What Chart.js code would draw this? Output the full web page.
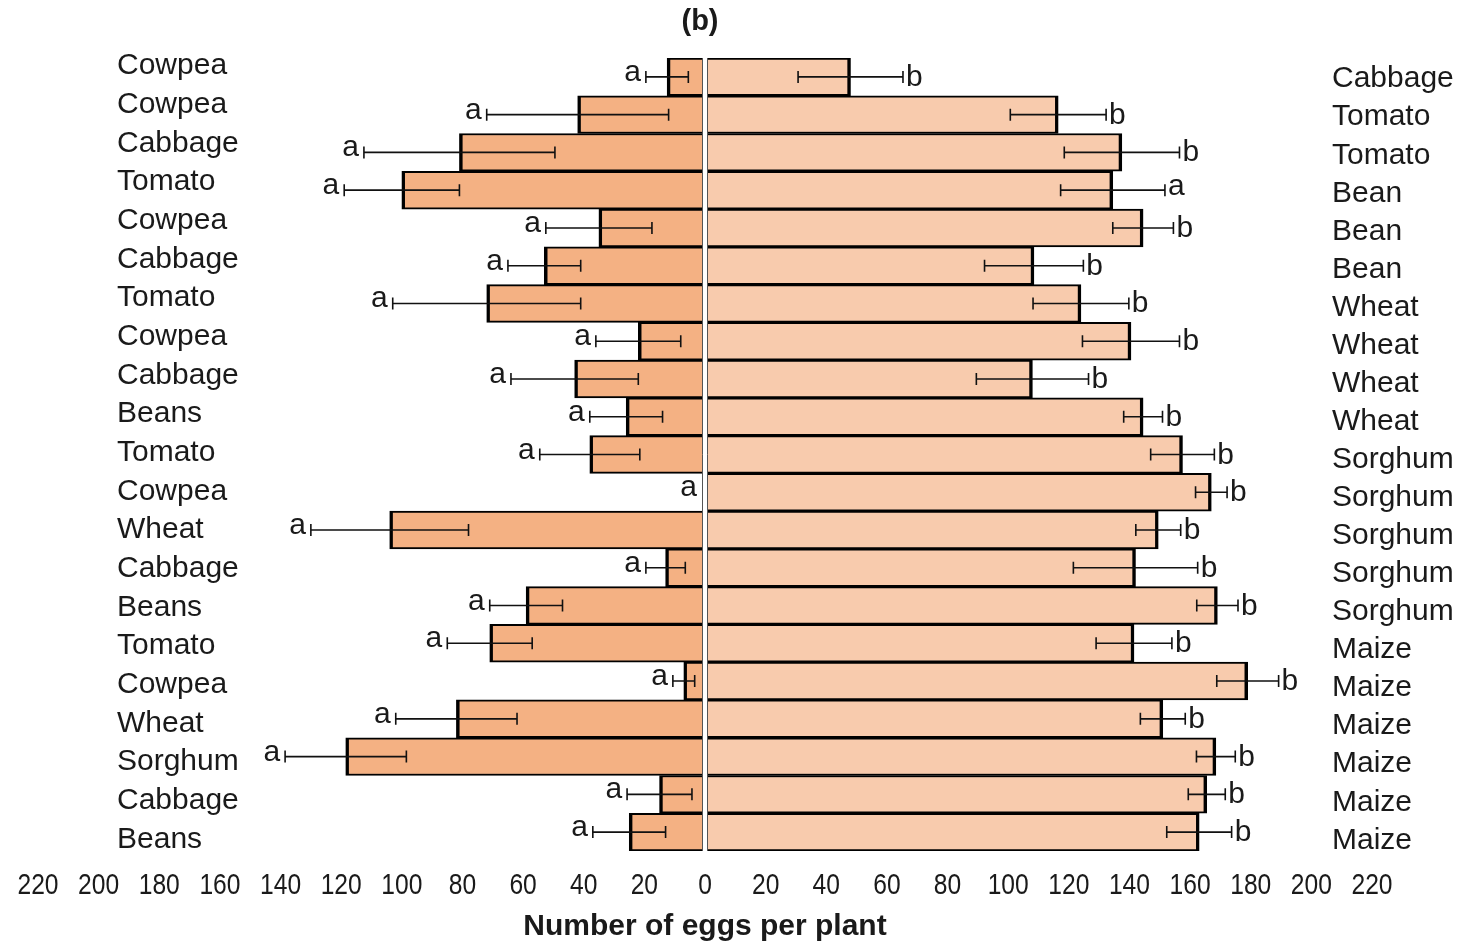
<!DOCTYPE html>
<html>
<head>
<meta charset="utf-8">
<script src="https://cdn.jsdelivr.net/npm/chart.js@4"></script>
<style>
  html, body { margin: 0; padding: 0; background: #fff; }
  #wrap { width: 1463px; height: 944px; }
</style>
</head>
<body>
<div id="wrap"><canvas id="eggChart"></canvas></div>
<script>
// left column = crop paired on the left, right column = crop on the right
const leftLabels = ['Cowpea', 'Cowpea', 'Cabbage', 'Tomato', 'Cowpea', 'Cabbage', 'Tomato',
  'Cowpea', 'Cabbage', 'Beans', 'Tomato', 'Cowpea', 'Wheat', 'Cabbage', 'Beans', 'Tomato',
  'Cowpea', 'Wheat', 'Sorghum', 'Cabbage', 'Beans'];
const rightLabels = ['Cabbage', 'Tomato', 'Tomato', 'Bean', 'Bean', 'Bean', 'Wheat',
  'Wheat', 'Wheat', 'Wheat', 'Sorghum', 'Sorghum', 'Sorghum', 'Sorghum', 'Sorghum', 'Maize',
  'Maize', 'Maize', 'Maize', 'Maize', 'Maize'];

const leftValues = [12.5, 42, 81, 100, 35, 53, 72, 22, 43, 26, 38, 0, 104, 13, 59, 71, 7, 82, 118.5, 15, 25];
const leftErrors = [7, 30, 31.5, 19, 17.5, 12, 31, 14, 21, 12, 16.5, 0, 26, 6.5, 12, 14, 3.6, 20, 20, 10.7, 12];
const rightValues = [48, 116.5, 137.5, 134.5, 144.5, 108.5, 124, 140.5, 108, 144.5, 157.5, 167, 149.5, 142, 169, 141.5, 179, 151, 168.5, 165.5, 163];
const rightErrors = [17.3, 15.8, 19, 17.2, 10, 16.3, 15.8, 16, 18.5, 6.4, 10.5, 5.2, 7.4, 20.5, 6.8, 12.5, 10.2, 7.4, 6.4, 6.1, 10.7];

const leftLetters = ['a', 'a', 'a', 'a', 'a', 'a', 'a', 'a', 'a', 'a', 'a', 'a', 'a', 'a', 'a', 'a', 'a', 'a', 'a', 'a', 'a'];
const rightLetters = ['b', 'b', 'b', 'a', 'b', 'b', 'b', 'b', 'b', 'b', 'b', 'b', 'b', 'b', 'b', 'b', 'b', 'b', 'b', 'b', 'b'];

const chartTitle = '(b)';
const xTitle = 'Number of eggs per plant';

const FONT = "'Liberation Sans', Arial, sans-serif";
const TEXT = '#1a1a1a';

function putText(ctx, str, x, y, align, font, sx) {
  ctx.save();
  ctx.font = font;
  ctx.textAlign = align;
  ctx.textBaseline = 'alphabetic';
  ctx.translate(x, y);
  ctx.scale(sx || 1, 1);
  ctx.fillText(str, 0, 0);
  ctx.restore();
}

// white divider at zero
const zeroLine = {
  id: 'zeroLine',
  afterDatasetsDraw(chart) {
    const { ctx, chartArea } = chart;
    const x0 = chart.scales.x.getPixelForValue(0);
    ctx.save();
    ctx.fillStyle = '#fff';
    ctx.fillRect(x0 - 2, chartArea.top, 4, chartArea.bottom - chartArea.top);
    ctx.strokeStyle = '#555';
    ctx.lineWidth = 1;
    ctx.beginPath();
    ctx.moveTo(x0 - 2.5, chartArea.top); ctx.lineTo(x0 - 2.5, chartArea.bottom);
    ctx.moveTo(x0 + 2.5, chartArea.top); ctx.lineTo(x0 + 2.5, chartArea.bottom);
    ctx.stroke();
    ctx.restore();
  }
};

function drawErr(ctx, xa, xb, y) {
  ctx.beginPath();
  ctx.moveTo(xa, y); ctx.lineTo(xb, y);
  ctx.moveTo(xa, y - 6); ctx.lineTo(xa, y + 6);
  ctx.moveTo(xb, y - 6); ctx.lineTo(xb, y + 6);
  ctx.stroke();
}

const errorBars = {
  id: 'errorBars',
  afterDatasetsDraw(chart) {
    const { ctx } = chart;
    const xs = chart.scales.x, ys = chart.scales.y;
    ctx.save();
    ctx.strokeStyle = '#111';
    ctx.lineWidth = 1.6;
    ctx.fillStyle = TEXT;
    leftValues.forEach((v, i) => {
      const y = ys.getPixelForValue(i);
      const e = leftErrors[i];
      const outer = xs.getPixelForValue(-(v + e));
      if (e > 0) drawErr(ctx, outer, xs.getPixelForValue(-(v - e)), y);
      putText(ctx, leftLetters[i], outer - (e > 0 ? 5 : 8), y + 4, 'right', '30px ' + FONT);
    });
    rightValues.forEach((v, i) => {
      const y = ys.getPixelForValue(i);
      const e = rightErrors[i];
      const outer = xs.getPixelForValue(v + e);
      drawErr(ctx, xs.getPixelForValue(v - e), outer, y);
      const letter = rightLetters[i];
      putText(ctx, letter, outer + 3, y + (letter === 'b' ? 9 : 5), 'left', '30px ' + FONT);
    });
    ctx.restore();
  }
};

// all text: crop names, tick labels, titles
const textLayer = {
  id: 'textLayer',
  afterDraw(chart) {
    const { ctx, chartArea } = chart;
    const xs = chart.scales.x, ys = chart.scales.y;
    const n = leftLabels.length;
    const yFirst = ys.getPixelForValue(0), yLast = ys.getPixelForValue(n - 1);
    ctx.save();
    ctx.fillStyle = TEXT;
    // left column is spread slightly wider than the bars
    leftLabels.forEach((lab, i) => {
      const y = (yFirst - 13) + (yLast + 5 - (yFirst - 13)) * i / (n - 1);
      putText(ctx, lab, chartArea.left + 79, y + 10.5, 'left', '30px ' + FONT);
    });
    rightLabels.forEach((lab, i) => {
      const y = ys.getPixelForValue(i) + (i / (n - 1)) * 6;
      putText(ctx, lab, chartArea.right - 40, y + 10.5, 'left', '30px ' + FONT);
    });
    xs.ticks.forEach(t => {
      putText(ctx, String(Math.abs(t.value)), xs.getPixelForValue(t.value), chartArea.bottom + 43,
        'center', '30px ' + FONT, 0.82);
    });
    putText(ctx, xTitle, (chartArea.left + chartArea.right) / 2, chartArea.bottom + 84,
      'center', 'bold 30px ' + FONT);
    putText(ctx, chartTitle, (chartArea.left + chartArea.right) / 2 - 5, 30,
      'center', 'bold 29px ' + FONT);
    ctx.restore();
  }
};

new Chart(document.getElementById('eggChart').getContext('2d'), {
  type: 'bar',
  data: {
    labels: leftLabels,
    datasets: [
      {
        data: leftValues.map(v => (v === 0 ? null : -v)),
        backgroundColor: '#F4B183',
        borderColor: '#000',
        borderWidth: { top: 2, bottom: 2, left: 3.5, right: 0 },
        borderSkipped: false,
        barPercentage: 1,
        categoryPercentage: 1
      },
      {
        data: rightValues,
        backgroundColor: '#F8CBAD',
        borderColor: '#000',
        borderWidth: { top: 2, bottom: 2, left: 0, right: 3.5 },
        borderSkipped: false,
        barPercentage: 1,
        categoryPercentage: 1
      }
    ]
  },
  options: {
    responsive: true,
    maintainAspectRatio: false,
    animation: false,
    indexAxis: 'y',
    layout: { padding: { left: 38, right: 91, top: 58, bottom: 93 } },
    plugins: {
      legend: { display: false },
      tooltip: { enabled: false }
    },
    scales: {
      x: {
        type: 'linear',
        min: -220,
        max: 220,
        stacked: true,
        grid: { display: false, drawTicks: false },
        border: { display: false },
        ticks: { display: false, stepSize: 20 }
      },
      y: {
        type: 'category',
        stacked: true,
        offset: true,
        grid: { display: false, drawTicks: false },
        border: { display: false },
        ticks: { display: false }
      }
    }
  },
  plugins: [zeroLine, errorBars, textLayer]
});
</script>
</body>
</html>
